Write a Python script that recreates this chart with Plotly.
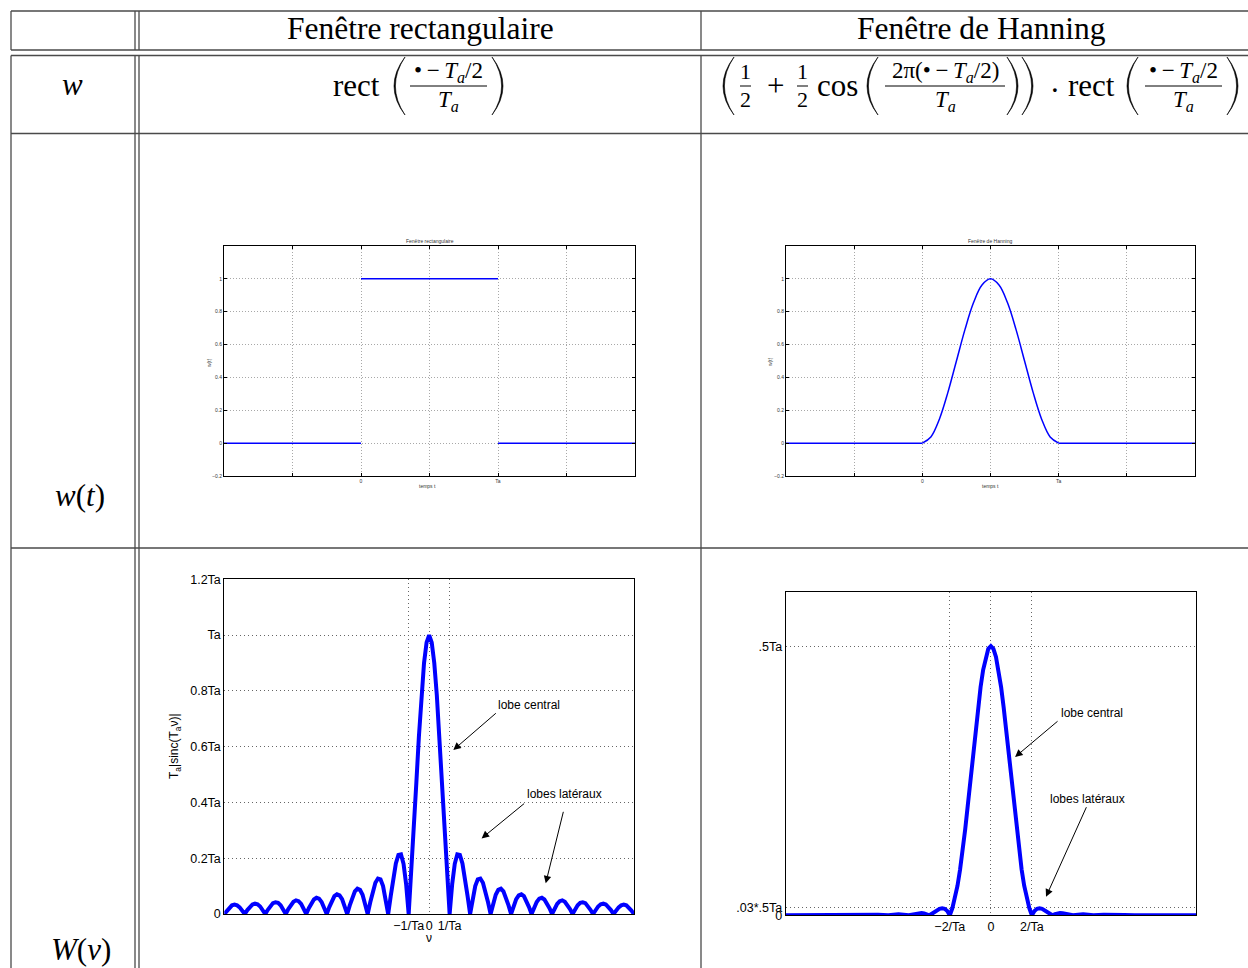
import plotly.graph_objects as go

W, H = 1248, 968


def X(px):
    return px / W


def Y(py):
    return 1 - py / H


# ---------------- data ----------------
# time windows (Ta = 1)
t_rect = [-1, 0, None, 0, 1, None, 1, 2]
w_rect = [0, 0, None, 1, 1, None, 0, 0]

t_hann = [-1, 0, None, 0, 0.0625, 0.125, 0.1875, 0.25, 0.3125, 0.375, 0.4375, 0.5,
          0.5625, 0.625, 0.6875, 0.75, 0.8125, 0.875, 0.9375, 1, None, 1, 2]
w_hann = [0, 0, None, 0, 0.038, 0.146, 0.309, 0.5, 0.691, 0.854, 0.962, 1,
          0.962, 0.854, 0.691, 0.5, 0.309, 0.146, 0.038, 0, None, 0, 0]

# spectrum of rectangular window (positive frequencies, nu*Ta)
nu_rect_pos = [k * 0.125 for k in range(81)]
spec_rect_pos = [1.000, 0.974, 0.900, 0.784, 0.637, 0.471, 0.300, 0.139,
                 0.000, 0.108, 0.180, 0.214, 0.212, 0.181, 0.129, 0.065,
                 0.000, 0.057, 0.100, 0.124, 0.127, 0.112, 0.082, 0.042,
                 0.000, 0.039, 0.069, 0.087, 0.091, 0.081, 0.060, 0.031,
                 0.000, 0.030, 0.053, 0.067, 0.071, 0.064, 0.047, 0.025,
                 0.000, 0.024, 0.043, 0.055, 0.058, 0.052, 0.039, 0.021,
                 0.000, 0.020, 0.036, 0.046, 0.049, 0.044, 0.033, 0.018,
                 0.000, 0.017, 0.031, 0.040, 0.042, 0.039, 0.029, 0.015,
                 0.000, 0.015, 0.027, 0.035, 0.037, 0.034, 0.026, 0.014,
                 0.000, 0.013, 0.024, 0.031, 0.034, 0.031, 0.023, 0.012,
                 0.000]

# spectrum of Hanning window (positive frequencies)
nu_hann_pos = [k * 0.125 for k in range(33)] + [4.5, 5, 5.5, 6, 6.5, 7, 7.5, 8, 8.5, 9, 9.5, 10]
spec_hann_pos = [0.500, 0.495, 0.480, 0.456, 0.424, 0.386, 0.343, 0.297,
                 0.250, 0.204, 0.160, 0.120, 0.085, 0.055, 0.031, 0.013,
                 0.000, 0.008, 0.012, 0.013, 0.012, 0.0095, 0.006, 0.003,
                 0.000, 0.002, 0.0036, 0.0042, 0.004, 0.0033, 0.0023, 0.0011,
                 0.000,
                 0.0018, 0, 0.001, 0, 0.0006, 0, 0.0004, 0, 0.0003, 0, 0.0002, 0]


def mirror(xs, ys):
    return ([-v for v in reversed(xs[1:])] + list(xs),
            list(reversed(ys[1:])) + list(ys))


nu_rect, spec_rect = mirror(nu_rect_pos, spec_rect_pos)
nu_hann, spec_hann = mirror(nu_hann_pos, spec_hann_pos)

# tick labels
t_tickvals = [-0.5, 0, 0.5, 1, 1.5]
t_ticktext = ['', '0', '', 'Ta', '']
w_tickvals = [-0.2, 0, 0.2, 0.4, 0.6, 0.8, 1]
w_ticktext = ['\u22120.2', '0', '0.2', '0.4', '0.6', '0.8', '1']
r_xtickvals = [-1, 0, 1]
r_xticktext = ['\u22121/Ta', '0', '1/Ta']
r_ytickvals = [0, 0.2, 0.4, 0.6, 0.8, 1, 1.2]
r_yticktext = ['0', '0.2Ta', '0.4Ta', '0.6Ta', '0.8Ta', 'Ta', '1.2Ta']
h_xtickvals = [-2, 0, 2]
h_xticktext = ['\u22122/Ta', '0', '2/Ta']
h_ytickvals = [0, 0.015, 0.5]
h_yticktext = ['0', '.03*.5Ta', '.5Ta']

BLUE = '#0000ff'
SANS = 'Liberation Sans'
SERIF = 'Liberation Serif'

fig = go.Figure()
fig.add_trace(go.Scatter(x=t_rect, y=w_rect, mode='lines', line=dict(color=BLUE, width=1.5),
                         xaxis='x', yaxis='y', showlegend=False, hoverinfo='skip'))
fig.add_trace(go.Scatter(x=t_hann, y=w_hann, mode='lines', line=dict(color=BLUE, width=1.5, shape='spline'),
                         xaxis='x2', yaxis='y2', showlegend=False, hoverinfo='skip'))
fig.add_trace(go.Scatter(x=nu_rect, y=spec_rect, mode='lines', line=dict(color=BLUE, width=4),
                         xaxis='x3', yaxis='y3', showlegend=False, hoverinfo='skip', cliponaxis=False))
fig.add_trace(go.Scatter(x=nu_hann, y=spec_hann, mode='lines', line=dict(color=BLUE, width=4),
                         xaxis='x4', yaxis='y4', showlegend=False, hoverinfo='skip', cliponaxis=False))

top_common = dict(showline=True, linecolor='black', linewidth=1, mirror='ticks', ticks='inside',
                  ticklen=3, tickwidth=1, tickcolor='black', showgrid=True, gridcolor='#a8a8a8',
                  griddash='1px,2px', gridwidth=1, zeroline=False, fixedrange=True, automargin=False,
                  tickangle=0, tickfont=dict(size=5, family=SANS, color='#333'))
bot_common = dict(showline=True, linecolor='black', linewidth=1, mirror=True, ticks='',
                  showgrid=True, gridcolor='#666666', griddash='1px,3px', gridwidth=1, zeroline=False,
                  fixedrange=True, automargin=False, tickangle=0,
                  tickfont=dict(size=12.5, family=SANS, color='black'))

fig.update_layout(
    width=W, height=H, autosize=False,
    margin=dict(l=0, r=0, t=0, b=0, pad=0),
    paper_bgcolor='white', plot_bgcolor='white',
    xaxis=dict(domain=[X(224), X(635)], range=[-1, 2], tickvals=t_tickvals, ticktext=t_ticktext,
               anchor='y', **top_common),
    yaxis=dict(domain=[Y(476), Y(246)], range=[-0.2, 1.2], tickvals=w_tickvals, ticktext=w_ticktext,
               anchor='x', **top_common),
    xaxis2=dict(domain=[X(786), X(1195)], range=[-1, 2], tickvals=t_tickvals, ticktext=t_ticktext,
                anchor='y2', **top_common),
    yaxis2=dict(domain=[Y(476), Y(246)], range=[-0.2, 1.2], tickvals=w_tickvals, ticktext=w_ticktext,
                anchor='x2', **top_common),
    xaxis3=dict(domain=[X(224.3), X(634)], range=[-10, 10], tickvals=r_xtickvals, ticktext=r_xticktext,
                anchor='y3', **bot_common),
    yaxis3=dict(domain=[Y(914), Y(579.3)], range=[0, 1.2], tickvals=r_ytickvals, ticktext=r_yticktext,
                anchor='x3', **bot_common),
    xaxis4=dict(domain=[X(785.7), X(1196)], range=[-10, 10], tickvals=h_xtickvals, ticktext=h_xticktext,
                anchor='y4', **bot_common),
    yaxis4=dict(domain=[Y(915.3), Y(592.3)], range=[0, 0.6], tickvals=h_ytickvals, ticktext=h_yticktext,
                anchor='x4', **bot_common),
)

shapes = []
LINEC = '#4a4a4a'


def hline(py, x0=11, x1=1248):
    shapes.append(dict(type='line', xref='paper', yref='paper', x0=X(x0), x1=X(x1), y0=Y(py), y1=Y(py),
                       line=dict(color=LINEC, width=1.3)))


def vline(px, y0, y1):
    shapes.append(dict(type='line', xref='paper', yref='paper', x0=X(px), x1=X(px), y0=Y(y0), y1=Y(y1),
                       line=dict(color=LINEC, width=1.3)))


for py in [11, 50, 55.5, 133.5, 548]:
    hline(py)
for px in [11, 135, 139, 701]:
    vline(px, 11, 50)
    vline(px, 55.5, 968)


def bar(x0, x1, py=86):
    shapes.append(dict(type='line', xref='paper', yref='paper', x0=X(x0), x1=X(x1), y0=Y(py), y1=Y(py),
                       line=dict(color='black', width=1)))


def paren(xl, xr, yt=57, yb=115, left=True, t=1.4):
    ym = (yt + yb) / 2
    if left:
        ex = xr
        cxo = 2 * xl - xr
        cxi = 2 * (xl + t) - xr
    else:
        ex = xl
        cxo = 2 * xr - xl
        cxi = 2 * (xr - t) - xl
    path = (f"M {X(ex)},{Y(yt)} Q {X(cxo)},{Y(ym)} {X(ex)},{Y(yb)} "
            f"Q {X(cxi)},{Y(ym)} {X(ex)},{Y(yt)} Z")
    shapes.append(dict(type='path', xref='paper', yref='paper', path=path,
                       fillcolor='black', line=dict(color='black', width=0.6)))


# rect formula
paren(394, 405, left=True)
bar(410, 487)
paren(492, 503, left=False)
# hanning formula
paren(723, 734, left=True)
bar(740, 751)
bar(797, 808)
paren(867, 878, left=True)
bar(885, 1005)
paren(1007, 1018, left=False)
paren(1022, 1033, left=False)
paren(1127, 1138, left=True)
bar(1145, 1222)
paren(1227, 1238, left=False)

annotations = []


def txt(s, px, py, size, family=SERIF, color='black', angle=0, xanchor='center'):
    annotations.append(dict(text=s, x=X(px), y=Y(py), xref='paper', yref='paper', showarrow=False,
                            xanchor=xanchor, yanchor='middle', textangle=angle,
                            font=dict(size=size, family=family, color=color)))


# headers
txt('Fenêtre rectangulaire', 420, 28, 31.5)
txt('Fenêtre de Hanning', 981, 28, 31.5)
# row labels
txt('<i>w</i>', 72, 84, 31)
txt('<i>w</i>(<i>t</i>)', 80, 496, 31)
txt('<i>W</i>(<i>ν</i>)', 81, 949, 31)

# formulas
NUM = '•\u2009−\u2009<i>T<sub>a</sub></i>/2'
DEN = '<i>T<sub>a</sub></i>'
txt('rect', 356, 86, 31)
txt(NUM, 448.5, 72, 23)
txt(DEN, 448.5, 101, 23)

txt('1', 745.5, 72, 22)
txt('2', 745.5, 100, 22)
txt('+', 775, 85, 31)
txt('1', 802.5, 72, 22)
txt('2', 802.5, 100, 22)
txt('cos', 838, 86, 31)
txt('2π(•\u2009−\u2009<i>T<sub>a</sub></i>/2)', 945, 72, 23)
txt(DEN, 945, 101, 23)
txt('.', 1055, 81, 31)
txt('rect', 1091, 86, 31)
txt(NUM, 1183.5, 72, 23)
txt(DEN, 1183.5, 101, 23)

# small plot titles / labels
txt('Fenêtre rectangulaire', 430, 241, 5, family=SANS, color='#333')
txt('temps t', 427, 486, 5, family=SANS, color='#333')
txt('w(t)', 209, 362, 5, family=SANS, color='#333', angle=-90)
txt('Fenêtre de Hanning', 990, 241, 5, family=SANS, color='#333')
txt('temps t', 990, 486, 5, family=SANS, color='#333')
txt('w(t)', 770, 362, 5, family=SANS, color='#333', angle=-90)

# bottom plot labels
txt('ν', 429, 938, 12, family=SANS)
txt('T<sub>a</sub>|sinc(T<sub>a</sub>ν)|', 175, 746, 12, family=SANS, angle=-90)

txt('lobe central', 529, 705, 12, family=SANS)
txt('lobes latéraux', 564, 794, 12, family=SANS)
txt('lobe central', 1092, 713, 12, family=SANS)
txt('lobes latéraux', 1087, 799, 12, family=SANS)


def arrow(xa, ya, x, y, ax, ay):
    annotations.append(dict(text='', x=x, y=y, xref=xa, yref=ya, ax=ax, ay=ay, showarrow=True,
                            arrowhead=2, arrowsize=1.5, arrowwidth=1, arrowcolor='black', standoff=0))


arrow('x3', 'y3', 1.18, 0.588, 44, -38)
arrow('x3', 'y3', 2.56, 0.271, 44, -36)
arrow('x3', 'y3', 5.69, 0.110, 18, -73)
arrow('x4', 'y4', 1.18, 0.294, 44, -37)
arrow('x4', 'y4', 2.69, 0.0345, 41, -91)

fig.update_layout(shapes=shapes, annotations=annotations)

fig.write_html("out.html", config={'displayModeBar': False},
               post_script="document.body.style.margin='0';document.body.style.overflow='hidden';")
